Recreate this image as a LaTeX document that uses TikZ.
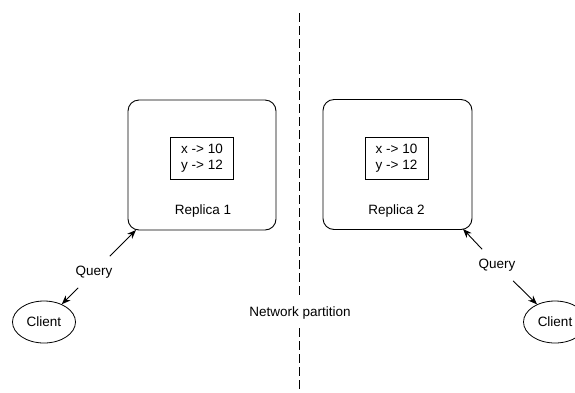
\documentclass[tikz,border=0pt]{standalone}
\usepackage{fontspec}
\setmainfont{Liberation Sans}
\usetikzlibrary{shapes.geometric,arrows.meta}
\begin{document}
\begin{tikzpicture}[x=1pt,y=-1pt,
  every node/.style={font=\fontsize{13.5}{15.5}\selectfont},
  replica/.style={draw,line width=0.9pt,rounded corners=11pt,minimum width=148pt,minimum height=130pt,inner sep=0pt},
  store/.style={draw,line width=0.9pt,minimum width=63pt,minimum height=42pt,inner sep=0pt,align=left},
  client/.style={draw,ellipse,line width=0.8pt,minimum width=63pt,minimum height=42pt,inner sep=0pt},
  qlabel/.style={inner xsep=4pt,inner ysep=9.5pt},
  arr/.style={line width=0.9pt,-{Stealth[length=9pt,width=7pt]}},
  part/.style={line width=0.9pt,dash pattern=on 8.5pt off 4.5pt}
]
\useasboundingbox (0,0) rectangle (575,392);
% replicas
\node[replica] (r1) at (202,165) {};
\node[store] (s1) at (202,158) {x -> 10\\y -> 12};
\node (l1) at (203,211) {Replica 1};
\node[replica,minimum width=149pt] (r2) at (397.5,164.5) {};
\node[store] (s2) at (396.5,158) {x -> 10\\y -> 12};
\node (l2) at (396.5,211) {Replica 2};
% clients
\node[client] (c1) at (44,322) {Client};
\node[client] (c2) at (555,322) {Client};
% queries
\node[qlabel] (q1) at (94,272) {Query};
\node[qlabel] (q2) at (497,265) {Query};
\coordinate (t1) at (136,230);
\coordinate (t2) at (463,229);
\draw[arr] (q1) -- (c1);
\draw[arr] (q1) -- (t1);
\draw[arr] (q2) -- (c2);
\draw[arr] (q2) -- (t2);
% partition
\coordinate (ptop) at (299,13);
\coordinate (pbot) at (299,392);
\node[inner ysep=8.7pt] (np) at (300,313) {Network partition};
\draw[part] (ptop) -- (np.north -| ptop);
\draw[part] (np.south -| pbot) -- (pbot);
\end{tikzpicture}
\end{document}
